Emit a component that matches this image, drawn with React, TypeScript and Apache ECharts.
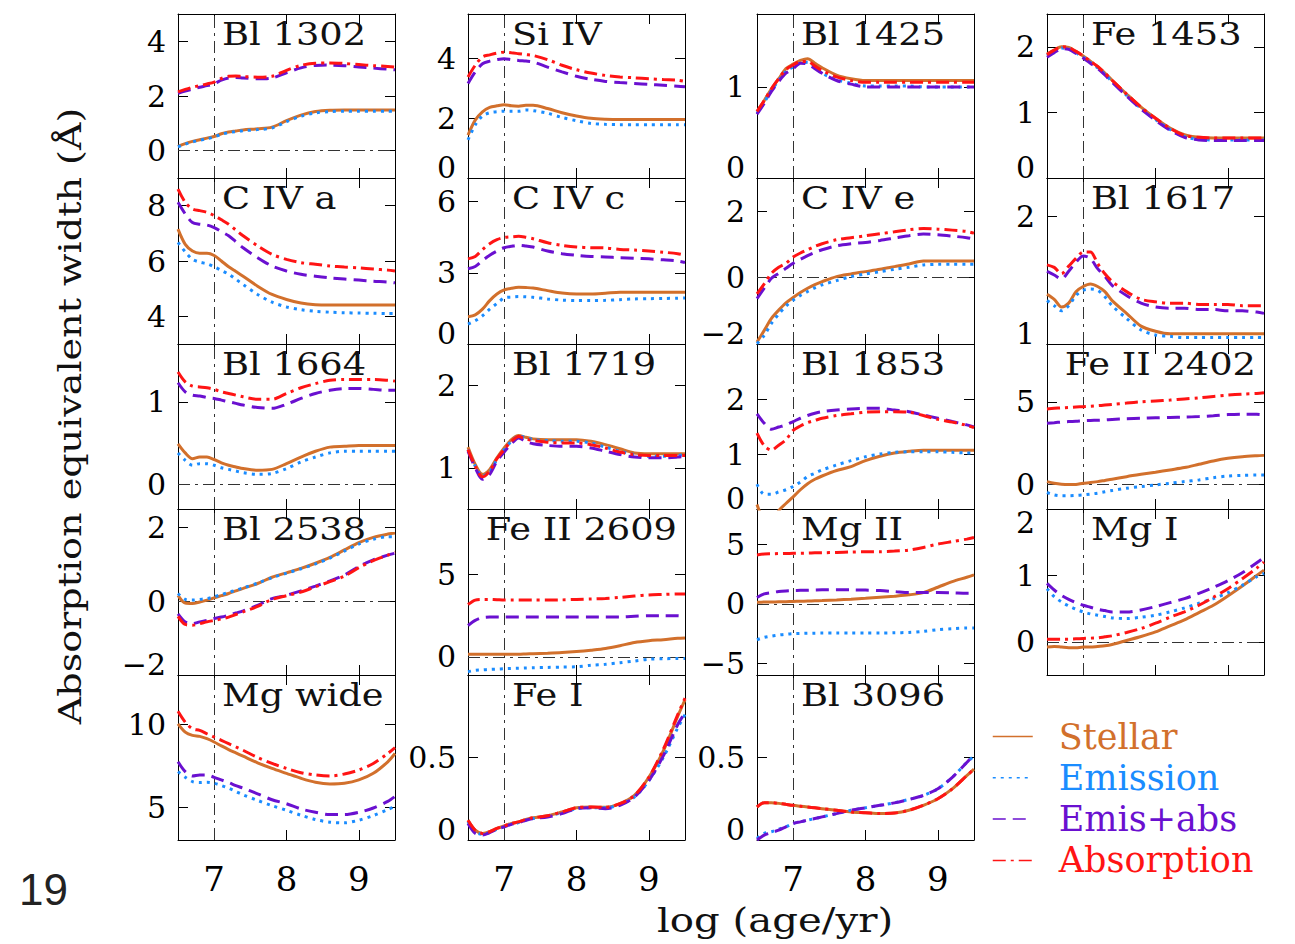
import React, { useEffect, useRef } from "react";
import * as echarts from "echarts";

// log(age/yr) sample points
const AGE = [6.5, 6.6, 6.7, 6.8, 6.9, 7.0, 7.1, 7.2, 7.3, 7.4, 7.6, 7.8, 8.0, 8.2, 8.4, 8.6, 8.8, 9.0, 9.2, 9.4, 9.5];

const SERIES_NAMES = ["Stellar", "Emission", "Emis+abs", "Absorption"];

const bl1302 = {
  stellar: [0.16, 0.26, 0.34, 0.4, 0.46, 0.52, 0.62, 0.68, 0.72, 0.76, 0.8, 0.86, 1.1, 1.3, 1.43, 1.48, 1.49, 1.49, 1.49, 1.49, 1.49],
  emission: [0.14, 0.24, 0.32, 0.38, 0.44, 0.5, 0.6, 0.66, 0.7, 0.73, 0.77, 0.83, 1.06, 1.26, 1.38, 1.43, 1.44, 1.44, 1.44, 1.44, 1.44],
  emisAbs: [2.1, 2.18, 2.25, 2.32, 2.38, 2.45, 2.58, 2.66, 2.68, 2.66, 2.63, 2.66, 2.85, 3.03, 3.12, 3.13, 3.11, 3.06, 3.02, 2.98, 2.96],
  absorption: [2.15, 2.24, 2.32, 2.38, 2.44, 2.51, 2.64, 2.72, 2.73, 2.71, 2.69, 2.72, 2.94, 3.12, 3.2, 3.21, 3.19, 3.15, 3.11, 3.08, 3.06],
};
const siIV = {
  stellar: [1.44, 1.94, 2.22, 2.37, 2.42, 2.46, 2.42, 2.41, 2.44, 2.44, 2.33, 2.19, 2.08, 2.0, 1.97, 1.96, 1.96, 1.96, 1.96, 1.96, 1.96],
  emission: [1.28, 1.78, 2.08, 2.19, 2.22, 2.24, 2.24, 2.24, 2.28, 2.26, 2.17, 2.03, 1.92, 1.83, 1.8, 1.79, 1.79, 1.79, 1.79, 1.79, 1.79],
  emisAbs: [3.17, 3.56, 3.83, 3.92, 3.97, 4.0, 3.97, 3.94, 3.92, 3.89, 3.72, 3.56, 3.41, 3.31, 3.24, 3.2, 3.17, 3.14, 3.11, 3.08, 3.06],
  absorption: [3.39, 3.78, 4.06, 4.13, 4.19, 4.22, 4.2, 4.17, 4.14, 4.11, 3.97, 3.78, 3.63, 3.52, 3.44, 3.39, 3.36, 3.33, 3.3, 3.28, 3.24],
};
const bl1425 = {
  stellar: [0.73, 0.85, 0.98, 1.09, 1.2, 1.25, 1.29, 1.31, 1.26, 1.21, 1.13, 1.09, 1.07, 1.07, 1.07, 1.07, 1.07, 1.07, 1.07, 1.07, 1.07],
  emission: [0.71, 0.83, 0.96, 1.07, 1.17, 1.22, 1.26, 1.27, 1.22, 1.15, 1.08, 1.04, 1.01, 1.01, 1.01, 1.01, 1.0, 1.0, 1.0, 1.0, 1.0],
  emisAbs: [0.7, 0.82, 0.95, 1.06, 1.15, 1.2, 1.26, 1.25, 1.2, 1.15, 1.07, 1.03, 1.0, 1.0, 1.0, 1.0, 1.0, 1.0, 1.0, 1.0, 1.0],
  absorption: [0.73, 0.85, 0.98, 1.09, 1.19, 1.24, 1.28, 1.28, 1.23, 1.18, 1.11, 1.07, 1.05, 1.05, 1.05, 1.05, 1.05, 1.05, 1.05, 1.05, 1.05],
};
const fe1453 = {
  stellar: [1.89, 1.95, 2.0, 1.99, 1.93, 1.86, 1.78, 1.7, 1.6, 1.49, 1.28, 1.08, 0.91, 0.76, 0.66, 0.62, 0.61, 0.61, 0.61, 0.61, 0.61],
  emission: [1.87, 1.93, 1.98, 1.97, 1.91, 1.84, 1.76, 1.68, 1.58, 1.47, 1.26, 1.06, 0.89, 0.74, 0.63, 0.59, 0.58, 0.58, 0.58, 0.58, 0.58],
  emisAbs: [1.84, 1.91, 1.97, 1.96, 1.9, 1.83, 1.75, 1.67, 1.57, 1.46, 1.25, 1.05, 0.88, 0.73, 0.62, 0.58, 0.57, 0.57, 0.57, 0.57, 0.57],
  absorption: [1.88, 1.95, 2.0, 1.99, 1.93, 1.86, 1.78, 1.7, 1.6, 1.49, 1.28, 1.08, 0.91, 0.76, 0.65, 0.62, 0.61, 0.61, 0.61, 0.61, 0.61],
};
const cIVa = {
  stellar: [7.15, 6.6, 6.36, 6.28, 6.28, 6.2, 6.0, 5.79, 5.62, 5.45, 5.09, 4.79, 4.61, 4.48, 4.42, 4.41, 4.41, 4.41, 4.41, 4.41, 4.41],
  emission: [6.67, 6.33, 6.06, 5.96, 5.9, 5.79, 5.66, 5.52, 5.34, 5.15, 4.79, 4.51, 4.34, 4.24, 4.18, 4.15, 4.13, 4.12, 4.11, 4.1, 4.1],
  emisAbs: [8.12, 7.7, 7.39, 7.33, 7.3, 7.21, 7.06, 6.91, 6.7, 6.48, 6.12, 5.82, 5.64, 5.52, 5.45, 5.39, 5.35, 5.31, 5.27, 5.24, 5.21],
  absorption: [8.6, 8.12, 7.88, 7.82, 7.76, 7.64, 7.49, 7.33, 7.12, 6.91, 6.55, 6.24, 6.06, 5.94, 5.88, 5.82, 5.78, 5.75, 5.71, 5.67, 5.64],
};
const cIVc = {
  stellar: [1.15, 1.23, 1.47, 1.83, 2.11, 2.28, 2.35, 2.39, 2.38, 2.36, 2.25, 2.15, 2.11, 2.11, 2.14, 2.18, 2.18, 2.18, 2.18, 2.18, 2.18],
  emission: [0.84, 0.98, 1.19, 1.47, 1.71, 1.94, 1.98, 2.0, 1.99, 1.97, 1.9, 1.85, 1.83, 1.83, 1.84, 1.87, 1.9, 1.91, 1.92, 1.93, 1.94],
  emisAbs: [3.17, 3.27, 3.52, 3.74, 3.92, 4.06, 4.12, 4.16, 4.13, 4.09, 3.92, 3.81, 3.74, 3.69, 3.67, 3.64, 3.62, 3.59, 3.55, 3.5, 3.44],
  absorption: [3.59, 3.69, 3.98, 4.23, 4.4, 4.49, 4.52, 4.54, 4.5, 4.44, 4.27, 4.16, 4.09, 4.06, 4.05, 3.99, 3.96, 3.92, 3.87, 3.81, 3.74],
};
const cIVe = {
  stellar: [-1.94, -1.59, -1.23, -0.98, -0.76, -0.6, -0.45, -0.32, -0.21, -0.12, 0.03, 0.11, 0.18, 0.25, 0.33, 0.41, 0.5, 0.5, 0.5, 0.5, 0.5],
  emission: [-1.99, -1.74, -1.38, -1.1, -0.86, -0.68, -0.54, -0.42, -0.31, -0.22, -0.09, 0.03, 0.11, 0.18, 0.25, 0.31, 0.38, 0.4, 0.4, 0.4, 0.4],
  emisAbs: [-0.63, -0.32, -0.02, 0.13, 0.28, 0.43, 0.55, 0.66, 0.76, 0.84, 0.96, 1.02, 1.06, 1.12, 1.19, 1.26, 1.31, 1.29, 1.25, 1.2, 1.16],
  absorption: [-0.49, -0.19, 0.13, 0.31, 0.43, 0.62, 0.74, 0.84, 0.94, 1.02, 1.14, 1.2, 1.26, 1.32, 1.38, 1.44, 1.48, 1.46, 1.43, 1.39, 1.34],
};
const bl1617 = {
  stellar: [1.39, 1.35, 1.29, 1.32, 1.41, 1.45, 1.47, 1.45, 1.41, 1.34, 1.24, 1.14, 1.1, 1.08, 1.08, 1.08, 1.08, 1.08, 1.08, 1.08, 1.08],
  emission: [1.34, 1.3, 1.26, 1.3, 1.38, 1.42, 1.43, 1.42, 1.37, 1.3, 1.2, 1.11, 1.07, 1.06, 1.05, 1.05, 1.05, 1.05, 1.05, 1.05, 1.05],
  emisAbs: [1.57, 1.54, 1.51, 1.57, 1.64, 1.69, 1.67, 1.59, 1.53, 1.46, 1.38, 1.32, 1.29, 1.28, 1.28, 1.27, 1.27, 1.26, 1.26, 1.25, 1.24],
  absorption: [1.62, 1.6, 1.55, 1.61, 1.67, 1.72, 1.72, 1.63, 1.55, 1.49, 1.41, 1.35, 1.33, 1.32, 1.32, 1.31, 1.31, 1.31, 1.3, 1.3, 1.3],
};
const bl1664 = {
  stellar: [0.49, 0.38, 0.31, 0.33, 0.33, 0.3, 0.26, 0.23, 0.21, 0.19, 0.17, 0.18, 0.25, 0.33, 0.4, 0.45, 0.46, 0.47, 0.47, 0.47, 0.47],
  emission: [0.38, 0.29, 0.23, 0.25, 0.25, 0.23, 0.2, 0.18, 0.16, 0.14, 0.12, 0.13, 0.19, 0.27, 0.33, 0.38, 0.4, 0.4, 0.4, 0.4, 0.4],
  emisAbs: [1.23, 1.12, 1.08, 1.07, 1.05, 1.04, 1.02, 1.0, 0.98, 0.96, 0.93, 0.92, 0.97, 1.04, 1.1, 1.14, 1.16, 1.16, 1.15, 1.14, 1.14],
  absorption: [1.36, 1.24, 1.19, 1.18, 1.17, 1.15, 1.12, 1.1, 1.08, 1.06, 1.03, 1.03, 1.1, 1.17, 1.22, 1.26, 1.27, 1.27, 1.27, 1.26, 1.25],
};
const bl1719 = {
  stellar: [1.25, 1.04, 0.92, 0.98, 1.12, 1.24, 1.34, 1.39, 1.37, 1.35, 1.34, 1.34, 1.34, 1.32, 1.28, 1.23, 1.18, 1.17, 1.17, 1.17, 1.17],
  emission: [1.22, 1.02, 0.9, 0.95, 1.1, 1.22, 1.32, 1.38, 1.37, 1.34, 1.33, 1.32, 1.32, 1.3, 1.25, 1.2, 1.16, 1.14, 1.14, 1.15, 1.16],
  emisAbs: [1.2, 1.0, 0.86, 0.92, 1.08, 1.19, 1.29, 1.36, 1.32, 1.29, 1.27, 1.26, 1.26, 1.24, 1.2, 1.16, 1.13, 1.12, 1.12, 1.13, 1.14],
  absorption: [1.22, 1.02, 0.89, 0.96, 1.11, 1.22, 1.32, 1.38, 1.35, 1.33, 1.31, 1.3, 1.3, 1.28, 1.24, 1.19, 1.16, 1.15, 1.15, 1.15, 1.15],
};
const bl1853 = {
  stellar: [0.08, -0.22, -0.28, -0.03, 0.1, 0.22, 0.35, 0.46, 0.54, 0.6, 0.7, 0.77, 0.88, 0.96, 1.02, 1.05, 1.07, 1.07, 1.07, 1.07, 1.07],
  emission: [0.45, 0.27, 0.27, 0.31, 0.35, 0.41, 0.49, 0.59, 0.65, 0.71, 0.8, 0.88, 0.95, 1.0, 1.03, 1.04, 1.04, 1.04, 1.03, 1.02, 1.02],
  emisAbs: [1.73, 1.56, 1.45, 1.49, 1.53, 1.59, 1.65, 1.7, 1.74, 1.77, 1.8, 1.82, 1.83, 1.83, 1.8, 1.77, 1.71, 1.65, 1.59, 1.53, 1.49],
  absorption: [1.38, 1.15, 1.07, 1.16, 1.26, 1.43, 1.51, 1.57, 1.61, 1.65, 1.7, 1.73, 1.76, 1.77, 1.77, 1.76, 1.7, 1.63, 1.58, 1.52, 1.48],
};
const feII2402 = {
  stellar: [0.16, 0.06, 0.0, -0.02, -0.01, 0.06, 0.1, 0.16, 0.23, 0.3, 0.46, 0.6, 0.73, 0.87, 1.01, 1.21, 1.41, 1.57, 1.67, 1.73, 1.75],
  emission: [-0.5, -0.65, -0.7, -0.7, -0.68, -0.65, -0.6, -0.54, -0.46, -0.38, -0.24, -0.14, -0.04, 0.06, 0.16, 0.26, 0.4, 0.5, 0.54, 0.56, 0.56],
  emisAbs: [3.69, 3.73, 3.77, 3.8, 3.82, 3.85, 3.87, 3.88, 3.9, 3.93, 3.97, 4.0, 4.03, 4.05, 4.07, 4.1, 4.15, 4.22, 4.25, 4.24, 4.2],
  absorption: [4.56, 4.6, 4.63, 4.65, 4.68, 4.7, 4.73, 4.76, 4.8, 4.84, 4.92, 5.0, 5.05, 5.1, 5.17, 5.24, 5.32, 5.4, 5.46, 5.5, 5.54],
};
const bl2538 = {
  stellar: [0.16, -0.05, -0.06, -0.02, 0.03, 0.09, 0.15, 0.21, 0.28, 0.35, 0.48, 0.65, 0.77, 0.89, 1.03, 1.19, 1.39, 1.59, 1.73, 1.82, 1.85],
  emission: [0.21, 0.05, 0.03, 0.05, 0.07, 0.12, 0.18, 0.24, 0.3, 0.36, 0.49, 0.64, 0.76, 0.88, 1.01, 1.17, 1.36, 1.55, 1.68, 1.75, 1.75],
  emisAbs: [-0.34, -0.56, -0.61, -0.56, -0.52, -0.47, -0.43, -0.38, -0.32, -0.26, -0.11, 0.07, 0.16, 0.28, 0.41, 0.55, 0.71, 0.94, 1.12, 1.25, 1.3],
  absorption: [-0.41, -0.63, -0.65, -0.61, -0.56, -0.52, -0.48, -0.43, -0.36, -0.29, -0.14, 0.05, 0.15, 0.25, 0.39, 0.53, 0.68, 0.91, 1.1, 1.25, 1.33],
};
const feII2609 = {
  stellar: [0.16, 0.16, 0.16, 0.16, 0.16, 0.16, 0.16, 0.16, 0.18, 0.2, 0.23, 0.27, 0.33, 0.41, 0.51, 0.68, 0.88, 0.99, 1.05, 1.13, 1.15],
  emission: [-0.9, -0.82, -0.79, -0.76, -0.74, -0.72, -0.7, -0.69, -0.67, -0.66, -0.64, -0.62, -0.6, -0.51, -0.45, -0.35, -0.25, -0.14, -0.11, -0.1, -0.1],
  emisAbs: [1.91, 2.22, 2.39, 2.43, 2.43, 2.43, 2.43, 2.43, 2.43, 2.43, 2.43, 2.43, 2.43, 2.43, 2.43, 2.43, 2.47, 2.51, 2.51, 2.5, 2.47],
  absorption: [3.19, 3.46, 3.5, 3.5, 3.48, 3.46, 3.46, 3.46, 3.46, 3.46, 3.46, 3.47, 3.5, 3.53, 3.56, 3.62, 3.7, 3.77, 3.8, 3.83, 3.83],
};
const mgII = {
  stellar: [0.14, 0.15, 0.16, 0.17, 0.18, 0.2, 0.22, 0.24, 0.26, 0.28, 0.33, 0.39, 0.47, 0.56, 0.65, 0.76, 0.95, 1.4, 1.88, 2.24, 2.44],
  emission: [-3.03, -2.83, -2.72, -2.63, -2.57, -2.52, -2.5, -2.48, -2.47, -2.46, -2.46, -2.46, -2.46, -2.46, -2.44, -2.41, -2.32, -2.18, -2.1, -2.04, -2.04],
  emisAbs: [0.53, 0.84, 0.95, 1.04, 1.09, 1.12, 1.14, 1.15, 1.17, 1.18, 1.18, 1.18, 1.16, 1.12, 1.04, 0.95, 0.95, 0.95, 0.93, 0.9, 0.9],
  absorption: [4.12, 4.2, 4.22, 4.24, 4.25, 4.26, 4.27, 4.28, 4.3, 4.31, 4.34, 4.37, 4.39, 4.4, 4.45, 4.54, 4.76, 5.04, 5.25, 5.46, 5.6],
};
const mgI = {
  stellar: [-0.08, -0.07, -0.08, -0.09, -0.09, -0.08, -0.08, -0.07, -0.06, -0.04, 0.02, 0.08, 0.15, 0.24, 0.33, 0.44, 0.55, 0.69, 0.84, 1.0, 1.08],
  emission: [0.8, 0.68, 0.6, 0.54, 0.49, 0.45, 0.42, 0.4, 0.38, 0.36, 0.35, 0.37, 0.4, 0.45, 0.51, 0.58, 0.65, 0.74, 0.85, 0.98, 1.03],
  emisAbs: [0.88, 0.78, 0.7, 0.64, 0.59, 0.55, 0.52, 0.49, 0.47, 0.45, 0.45, 0.48, 0.53, 0.59, 0.65, 0.73, 0.82, 0.92, 1.04, 1.19, 1.27],
  absorption: [0.04, 0.04, 0.04, 0.04, 0.045, 0.05, 0.055, 0.06, 0.075, 0.09, 0.14, 0.2, 0.28, 0.37, 0.45, 0.55, 0.67, 0.8, 0.95, 1.11, 1.2],
};
const mgWide = {
  stellar: [10.04, 9.54, 9.34, 9.28, 9.14, 8.94, 8.7, 8.48, 8.28, 8.08, 7.68, 7.34, 7.04, 6.74, 6.5, 6.4, 6.44, 6.64, 7.04, 7.74, 8.24],
  emission: [7.14, 6.8, 6.54, 6.48, 6.5, 6.44, 6.3, 6.14, 5.94, 5.74, 5.4, 5.08, 4.8, 4.5, 4.24, 4.08, 4.04, 4.2, 4.48, 4.84, 5.04],
  emisAbs: [7.74, 7.14, 6.88, 6.94, 6.94, 6.8, 6.64, 6.48, 6.3, 6.14, 5.8, 5.44, 5.2, 4.88, 4.68, 4.54, 4.54, 4.68, 4.94, 5.34, 5.64],
  absorption: [10.8, 10.14, 9.74, 9.64, 9.44, 9.24, 9.04, 8.84, 8.64, 8.44, 8.0, 7.64, 7.34, 7.08, 6.94, 6.88, 7.0, 7.24, 7.64, 8.24, 8.6],
};
const feI = {
  stellar: [0.12, 0.06, 0.04, 0.05, 0.07, 0.085, 0.1, 0.11, 0.125, 0.135, 0.147, 0.17, 0.195, 0.2, 0.198, 0.22, 0.27, 0.38, 0.54, 0.75, 0.85],
  emission: [0.11, 0.05, 0.035, 0.045, 0.065, 0.08, 0.095, 0.105, 0.12, 0.13, 0.145, 0.165, 0.19, 0.195, 0.195, 0.215, 0.26, 0.36, 0.5, 0.68, 0.76],
  emisAbs: [0.1, 0.04, 0.03, 0.045, 0.065, 0.08, 0.095, 0.105, 0.12, 0.13, 0.14, 0.16, 0.19, 0.195, 0.19, 0.21, 0.26, 0.36, 0.51, 0.7, 0.77],
  absorption: [0.12, 0.06, 0.04, 0.05, 0.07, 0.085, 0.1, 0.11, 0.125, 0.135, 0.147, 0.17, 0.195, 0.2, 0.198, 0.22, 0.27, 0.38, 0.55, 0.76, 0.86],
};
const bl3096 = {
  stellar: [0.2, 0.226, 0.226, 0.222, 0.216, 0.21, 0.205, 0.2, 0.195, 0.19, 0.18, 0.17, 0.165, 0.16, 0.163, 0.18, 0.21, 0.25, 0.31, 0.39, 0.43],
  emission: [0.01, 0.04, 0.05, 0.065, 0.08, 0.1, 0.11, 0.12, 0.13, 0.14, 0.16, 0.18, 0.195, 0.21, 0.226, 0.246, 0.27, 0.31, 0.38, 0.47, 0.51],
  emisAbs: [0.0, 0.03, 0.045, 0.06, 0.08, 0.1, 0.11, 0.12, 0.13, 0.14, 0.16, 0.18, 0.195, 0.21, 0.225, 0.245, 0.27, 0.31, 0.38, 0.47, 0.52],
  absorption: [0.2, 0.226, 0.226, 0.222, 0.216, 0.21, 0.205, 0.2, 0.195, 0.19, 0.18, 0.17, 0.165, 0.16, 0.163, 0.18, 0.21, 0.25, 0.31, 0.39, 0.43],
};

// panel table: title, data, y-axis range and tick step
const PANELS = [
  { title: "Bl 1302", d: bl1302, yMin: -1, yMax: 5, step: 2, lo: false, hi: false },
  { title: "Si IV", d: siIV, yMin: 0, yMax: 5.5, step: 2, lo: true, hi: false },
  { title: "Bl 1425", d: bl1425, yMin: 0, yMax: 1.8, step: 1, lo: true, hi: false },
  { title: "Fe 1453", d: fe1453, yMin: 0, yMax: 2.5, step: 1, lo: true, hi: false },
  { title: "C IV a", d: cIVa, yMin: 3, yMax: 9, step: 2, lo: false, hi: false },
  { title: "C IV c", d: cIVc, yMin: 0, yMax: 7, step: 3, lo: true, hi: false },
  { title: "C IV e", d: cIVe, yMin: -2, yMax: 3, step: 2, lo: true, hi: false },
  { title: "Bl 1617", d: bl1617, yMin: 1, yMax: 2.3, step: 1, lo: true, hi: false },
  { title: "Bl 1664", d: bl1664, yMin: -0.3, yMax: 1.7, step: 1, lo: false, hi: false },
  { title: "Bl 1719", d: bl1719, yMin: 0.5, yMax: 2.5, step: 1, lo: false, hi: false },
  { title: "Bl 1853", d: bl1853, yMin: 0, yMax: 3, step: 1, lo: true, hi: false },
  { title: "Fe II 2402", d: feII2402, yMin: -1.5, yMax: 8.5, step: 5, lo: false, hi: false },
  { title: "Bl 2538", d: bl2538, yMin: -2, yMax: 2.5, step: 2, lo: true, hi: false },
  { title: "Fe II 2609", d: feII2609, yMin: -1.1, yMax: 9, step: 5, lo: false, hi: false },
  { title: "Mg II", d: mgII, yMin: -6, yMax: 8, step: 5, lo: false, hi: false },
  { title: "Mg I", d: mgI, yMin: -0.5, yMax: 2, step: 1, lo: false, hi: true },
  { title: "Mg wide", d: mgWide, yMin: 3, yMax: 13, step: 5, lo: false, hi: false },
  { title: "Fe I", d: feI, yMin: 0, yMax: 1, step: 0.5, lo: true, hi: false },
  { title: "Bl 3096", d: bl3096, yMin: 0, yMax: 1, step: 0.5, lo: true, hi: false },
];

const COLORS = ["#d2702c", "#1a8cff", "#6a10d0", "#ff1414"];
const DASHES: any[] = ["solid", [3, 5], [13, 7], [13, 5, 3, 5]];
const FONT = "'DejaVu Serif', serif";

const ROW_EDGES = [14, 178, 344, 509, 675, 840];
const COL_LEFT = [178, 468, 757, 1047];
const PANEL_W = 217;

function fmtNum(v: number) {
  const s = String(Math.round(v * 1000) / 1000);
  return s.replace("-", "\u2212");
}

function buildOption() {
  const grid: any[] = [];
  const xAxis: any[] = [];
  const yAxis: any[] = [];
  const series: any[] = [];
  const graphic: any[] = [];

  PANELS.forEach((p, i) => {
    const row = Math.floor(i / 4);
    const col = i % 4;
    const top = ROW_EDGES[row];
    const h = ROW_EDGES[row + 1] - top;
    const left = COL_LEFT[col];
    grid.push({ left, top, width: PANEL_W, height: h, containLabel: false, outerBoundsMode: "none" });

    const axisLine = { show: true, onZero: false, lineStyle: { color: "#000", width: 1 } };
    const tick = { show: true, inside: true, length: 10, lineStyle: { color: "#000", width: 1 } };
    const showX = i >= 16;
    xAxis.push({
      type: "value", gridIndex: i, position: "bottom", min: 6.5, max: 9.5, minInterval: 1, maxInterval: 1,
      axisLine, axisTick: tick, splitLine: { show: false },
      axisLabel: {
        show: showX, showMinLabel: false, showMaxLabel: false, margin: 22,
        fontFamily: FONT, fontSize: 34, color: "#000",
      },
    });
    xAxis.push({
      type: "value", gridIndex: i, position: "top", min: 6.5, max: 9.5, minInterval: 1, maxInterval: 1,
      axisLine, axisTick: tick, splitLine: { show: false }, axisLabel: { show: false },
    });
    const lblStyle = { fontFamily: FONT, fontSize: 30, color: "#000" };
    yAxis.push({
      type: "value", gridIndex: i, position: "left", min: p.yMin, max: p.yMax,
      minInterval: p.step, maxInterval: p.step,
      axisLine, axisTick: tick, splitLine: { show: false },
      axisLabel: {
        show: true, showMinLabel: p.lo, showMaxLabel: p.hi, margin: 12, ...lblStyle,
        formatter: (v: number) => {
          const s = fmtNum(v);
          if (Math.abs(v - p.yMin) < 1e-9) return `{lo|${s}}`;
          if (Math.abs(v - p.yMax) < 1e-9) return `{hi|${s}}`;
          return s;
        },
        rich: {
          lo: { ...lblStyle, padding: [0, 0, 22, 0] },
          hi: { ...lblStyle, padding: [26, 0, 0, 0] },
        },
      },
    });
    yAxis.push({
      type: "value", gridIndex: i, position: "right", min: p.yMin, max: p.yMax,
      minInterval: p.step, maxInterval: p.step,
      axisLine, axisTick: tick, splitLine: { show: false }, axisLabel: { show: false },
    });

    const arrays = [p.d.stellar, p.d.emission, p.d.emisAbs, p.d.absorption];
    arrays.forEach((arr, k) => {
      const s: any = {
        type: "line", name: SERIES_NAMES[k], xAxisIndex: 2 * i, yAxisIndex: 2 * i,
        data: AGE.map((a, j) => [a, arr[j]]),
        symbol: "none", showSymbol: false, smooth: 0.3, clip: true, silent: true, z: 3,
        lineStyle: { color: COLORS[k], width: 3, type: DASHES[k], cap: "butt" },
        itemStyle: { color: COLORS[k] },
      };
      if (k === 0) {
        const ml: any[] = [{ xAxis: 7 }];
        if (p.yMin < 0 && p.yMax > 0) ml.push({ yAxis: 0 });
        s.markLine = {
          silent: true, symbol: ["none", "none"], label: { show: false }, z: 1,
          lineStyle: { color: "#333", width: 1, type: [12, 5, 3, 5] },
          data: ml,
        };
      }
      series.push(s);
    });

    const longTitle = p.title.startsWith("Fe II");
    graphic.push({
      type: "text",
      x: longTitle ? left + PANEL_W - 8 : left + 44,
      y: top + 20,
      scaleX: 1.15,
      silent: true,
      style: {
        text: p.title, fill: "#111", fontFamily: FONT, fontSize: 32, font: `32px ${FONT}`,
        align: longTitle ? "right" : "left", textAlign: longTitle ? "right" : "left",
        verticalAlign: "middle", textVerticalAlign: "middle",
      },
    });
  });

  graphic.push({
    type: "text", x: 70, y: 416, rotation: Math.PI / 2, scaleX: 1.19, silent: true,
    style: {
      text: "Absorption equivalent width (\u00c5)", fill: "#111", fontFamily: FONT, fontSize: 32, font: `32px ${FONT}`,
      align: "center", textAlign: "center", verticalAlign: "middle", textVerticalAlign: "middle",
    },
  });
  graphic.push({
    type: "text", x: 775, y: 921, scaleX: 1.22, silent: true,
    style: {
      text: "log (age/yr)", fill: "#111", fontFamily: FONT, fontSize: 33, font: `33px ${FONT}`,
      align: "center", textAlign: "center", verticalAlign: "middle", textVerticalAlign: "middle",
    },
  });
  graphic.push({
    type: "text", x: 19, y: 889, silent: true,
    style: {
      text: "19", fill: "#222", fontFamily: "'Liberation Sans', Arial, sans-serif", fontSize: 44,
      font: `44px 'Liberation Sans', Arial, sans-serif`,
      align: "left", textAlign: "left", verticalAlign: "middle", textVerticalAlign: "middle",
    },
  });

  return {
    animation: false,
    backgroundColor: "#fff",
    grid, xAxis, yAxis, series, graphic,
    legend: {
      data: SERIES_NAMES.map((n, k) => ({ name: n, textStyle: { color: COLORS[k] } })),
      orient: "vertical", left: 992, top: 719, padding: 0,
      itemWidth: 40, itemHeight: 14, itemGap: 6.3, selectedMode: false,
      lineStyle: { width: 1.5 },
      itemStyle: { opacity: 0, borderWidth: 0 },
      textStyle: { fontFamily: FONT, fontSize: 35, lineHeight: 35, padding: [0, 0, 0, 21] },
    },
  };
}

export default function App() {
  const ref = useRef<HTMLDivElement>(null);
  useEffect(() => {
    if (!ref.current) return;
    const chart = echarts.init(ref.current, null, { renderer: "svg" });
    chart.setOption(buildOption() as any);
    return () => chart.dispose();
  }, []);
  return (
    <div
      ref={ref}
      style={{ position: "absolute", left: 0, top: 0, width: 1295, height: 944, background: "#fff" }}
    />
  );
}
